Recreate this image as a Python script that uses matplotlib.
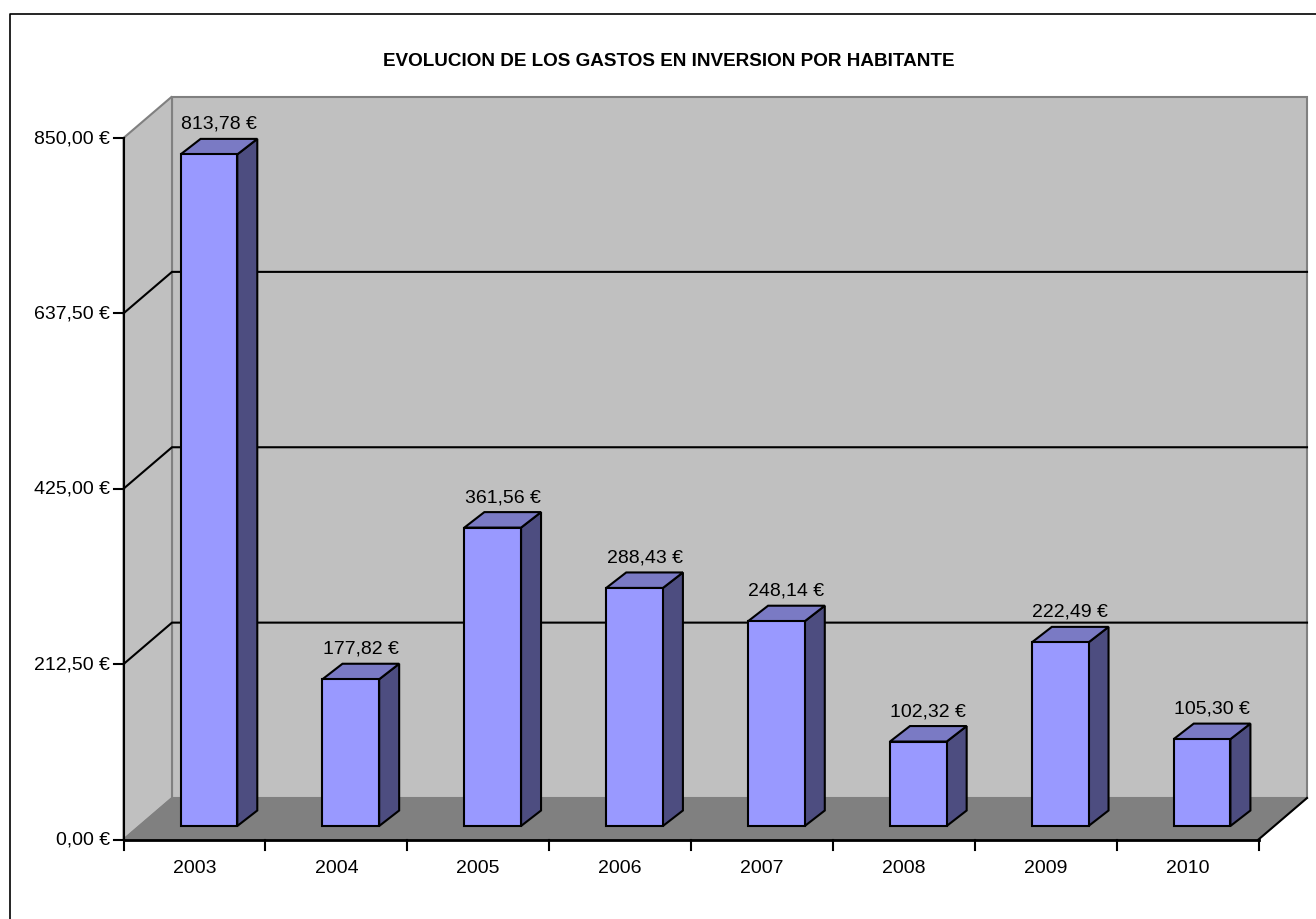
import matplotlib
matplotlib.use("Agg")
import matplotlib.pyplot as plt
from matplotlib.patches import Polygon

plt.rcParams['font.family'] = ['Liberation Sans', 'DejaVu Sans']

years = ['2003', '2004', '2005', '2006', '2007', '2008', '2009', '2010']
values = [813.78, 177.82, 361.56, 288.43, 248.14, 102.32, 222.49, 105.30]
value_labels = ['813,78 €', '177,82 €', '361,56 €', '288,43 €', '248,14 €', '102,32 €', '222,49 €', '105,30 €']
y_ticks = [0, 212.5, 425, 637.5, 850]
y_tick_labels = ['0,00 €', '212,50 €', '425,00 €', '637,50 €', '850,00 €']
title = 'EVOLUCION DE LOS GASTOS EN INVERSION POR HABITANTE'

W, H = 1316, 919
WALL = '#C0C0C0'
FLOOR = '#808080'
GREY = '#808080'
BAR = '#9999FF'
BAR_TOP = '#7A7AC4'
BAR_SIDE = '#4D4D80'
FONT = 14

fig = plt.figure(figsize=(W / 100, H / 100), dpi=100)
# axes = front plane of the fake 3D box
left, right, top, bottom = 123.5, 1258.5, 138, 839.5
ax = fig.add_axes([left / W, 1 - bottom / H, (right - left) / W, (bottom - top) / H])
ax.set_xlim(0, 8)
ax.set_ylim(0, 850)
ax.axis('off')

px_x = 8 / (right - left)
px_y = 850 / (bottom - top)

# depth of the box and of the bars
box_dx, box_dy = 48.5 * px_x, 41.5 * px_y
bar_off_x, bar_off_y = 14.5 * px_x, 13.5 * px_y
bar_w = 56.7 * px_x
bar_dx, bar_dy = 20 * px_x, 15.5 * px_y


def poly(pts, fc, ec='none', lw=0, z=1):
    ax.add_patch(Polygon(pts, closed=True, facecolor=fc, edgecolor=ec, linewidth=lw,
                         zorder=z, clip_on=False, joinstyle='miter'))


# back wall, left wall, floor
poly([(box_dx, box_dy), (8 + box_dx, box_dy), (8 + box_dx, 850 + box_dy), (box_dx, 850 + box_dy)], WALL, GREY, 1.5)
poly([(0, 0), (box_dx, box_dy), (box_dx, 850 + box_dy), (0, 850)], WALL, GREY, 1.5)
poly([(0, 0), (8, 0), (8 + box_dx, box_dy), (box_dx, box_dy)], FLOOR, GREY, 1.0)

# gridlines on the walls
for t in y_ticks[1:-1]:
    ax.plot([0, box_dx, 8 + box_dx], [t, t + box_dy, t + box_dy], color='black', lw=1.5, zorder=2,
            clip_on=False, solid_joinstyle='miter')

# floor edges in black, axis lines and ticks
ax.plot([8, 8 + box_dx], [0, box_dy], color='black', lw=1.5, zorder=2, clip_on=False)
ax.plot([0, 0], [0, 850], color='black', lw=1.5, zorder=3, clip_on=False)
ax.plot([0, 8], [0, 0], color='black', lw=2, zorder=3, clip_on=False)
for t, lab in zip(y_ticks, y_tick_labels):
    ax.plot([-10 * px_x, 0], [t, t], color='black', lw=1.5, zorder=3, clip_on=False)
    ax.text(-13.5 * px_x, t - 0.5 * px_y, lab, ha='right', va='center', fontsize=FONT)
for i in range(9):
    ax.plot([i, i], [0, -10 * px_y], color='black', lw=1.5, zorder=3, clip_on=False)

# bars
for i, v in enumerate(values):
    x0 = i + (1 - bar_w) / 2 + bar_off_x
    x1 = x0 + bar_w
    y0 = bar_off_y
    y1 = v + bar_off_y
    z = 5 + i
    poly([(x1, y0), (x1 + bar_dx, y0 + bar_dy), (x1 + bar_dx, y1 + bar_dy), (x1, y1)], BAR_SIDE, 'black', 1.5, z)
    poly([(x0, y1), (x1, y1), (x1 + bar_dx, y1 + bar_dy), (x0 + bar_dx, y1 + bar_dy)], BAR_TOP, 'black', 1.5, z)
    poly([(x0, y0), (x1, y0), (x1, y1), (x0, y1)], BAR, 'black', 1.5, z)
    ax.text((x0 + x1 + bar_dx) / 2, y1 + bar_dy + 6 * px_y, value_labels[i], ha='center', va='bottom',
            fontsize=FONT, zorder=20)
    ax.text(i + 0.5, -29 * px_y, years[i], ha='center', va='center', fontsize=FONT)

# chart title and outer frame
fig.text(669 / W, 1 - 62 / H, title, ha='center', va='center', fontsize=13.6, fontweight='bold')
fig.add_artist(plt.Line2D([9.5 / W, 9.5 / W, 1], [0, 1 - 13.5 / H, 1 - 13.5 / H], color='black', lw=1.2))

fig.savefig('out.png', dpi=100)
